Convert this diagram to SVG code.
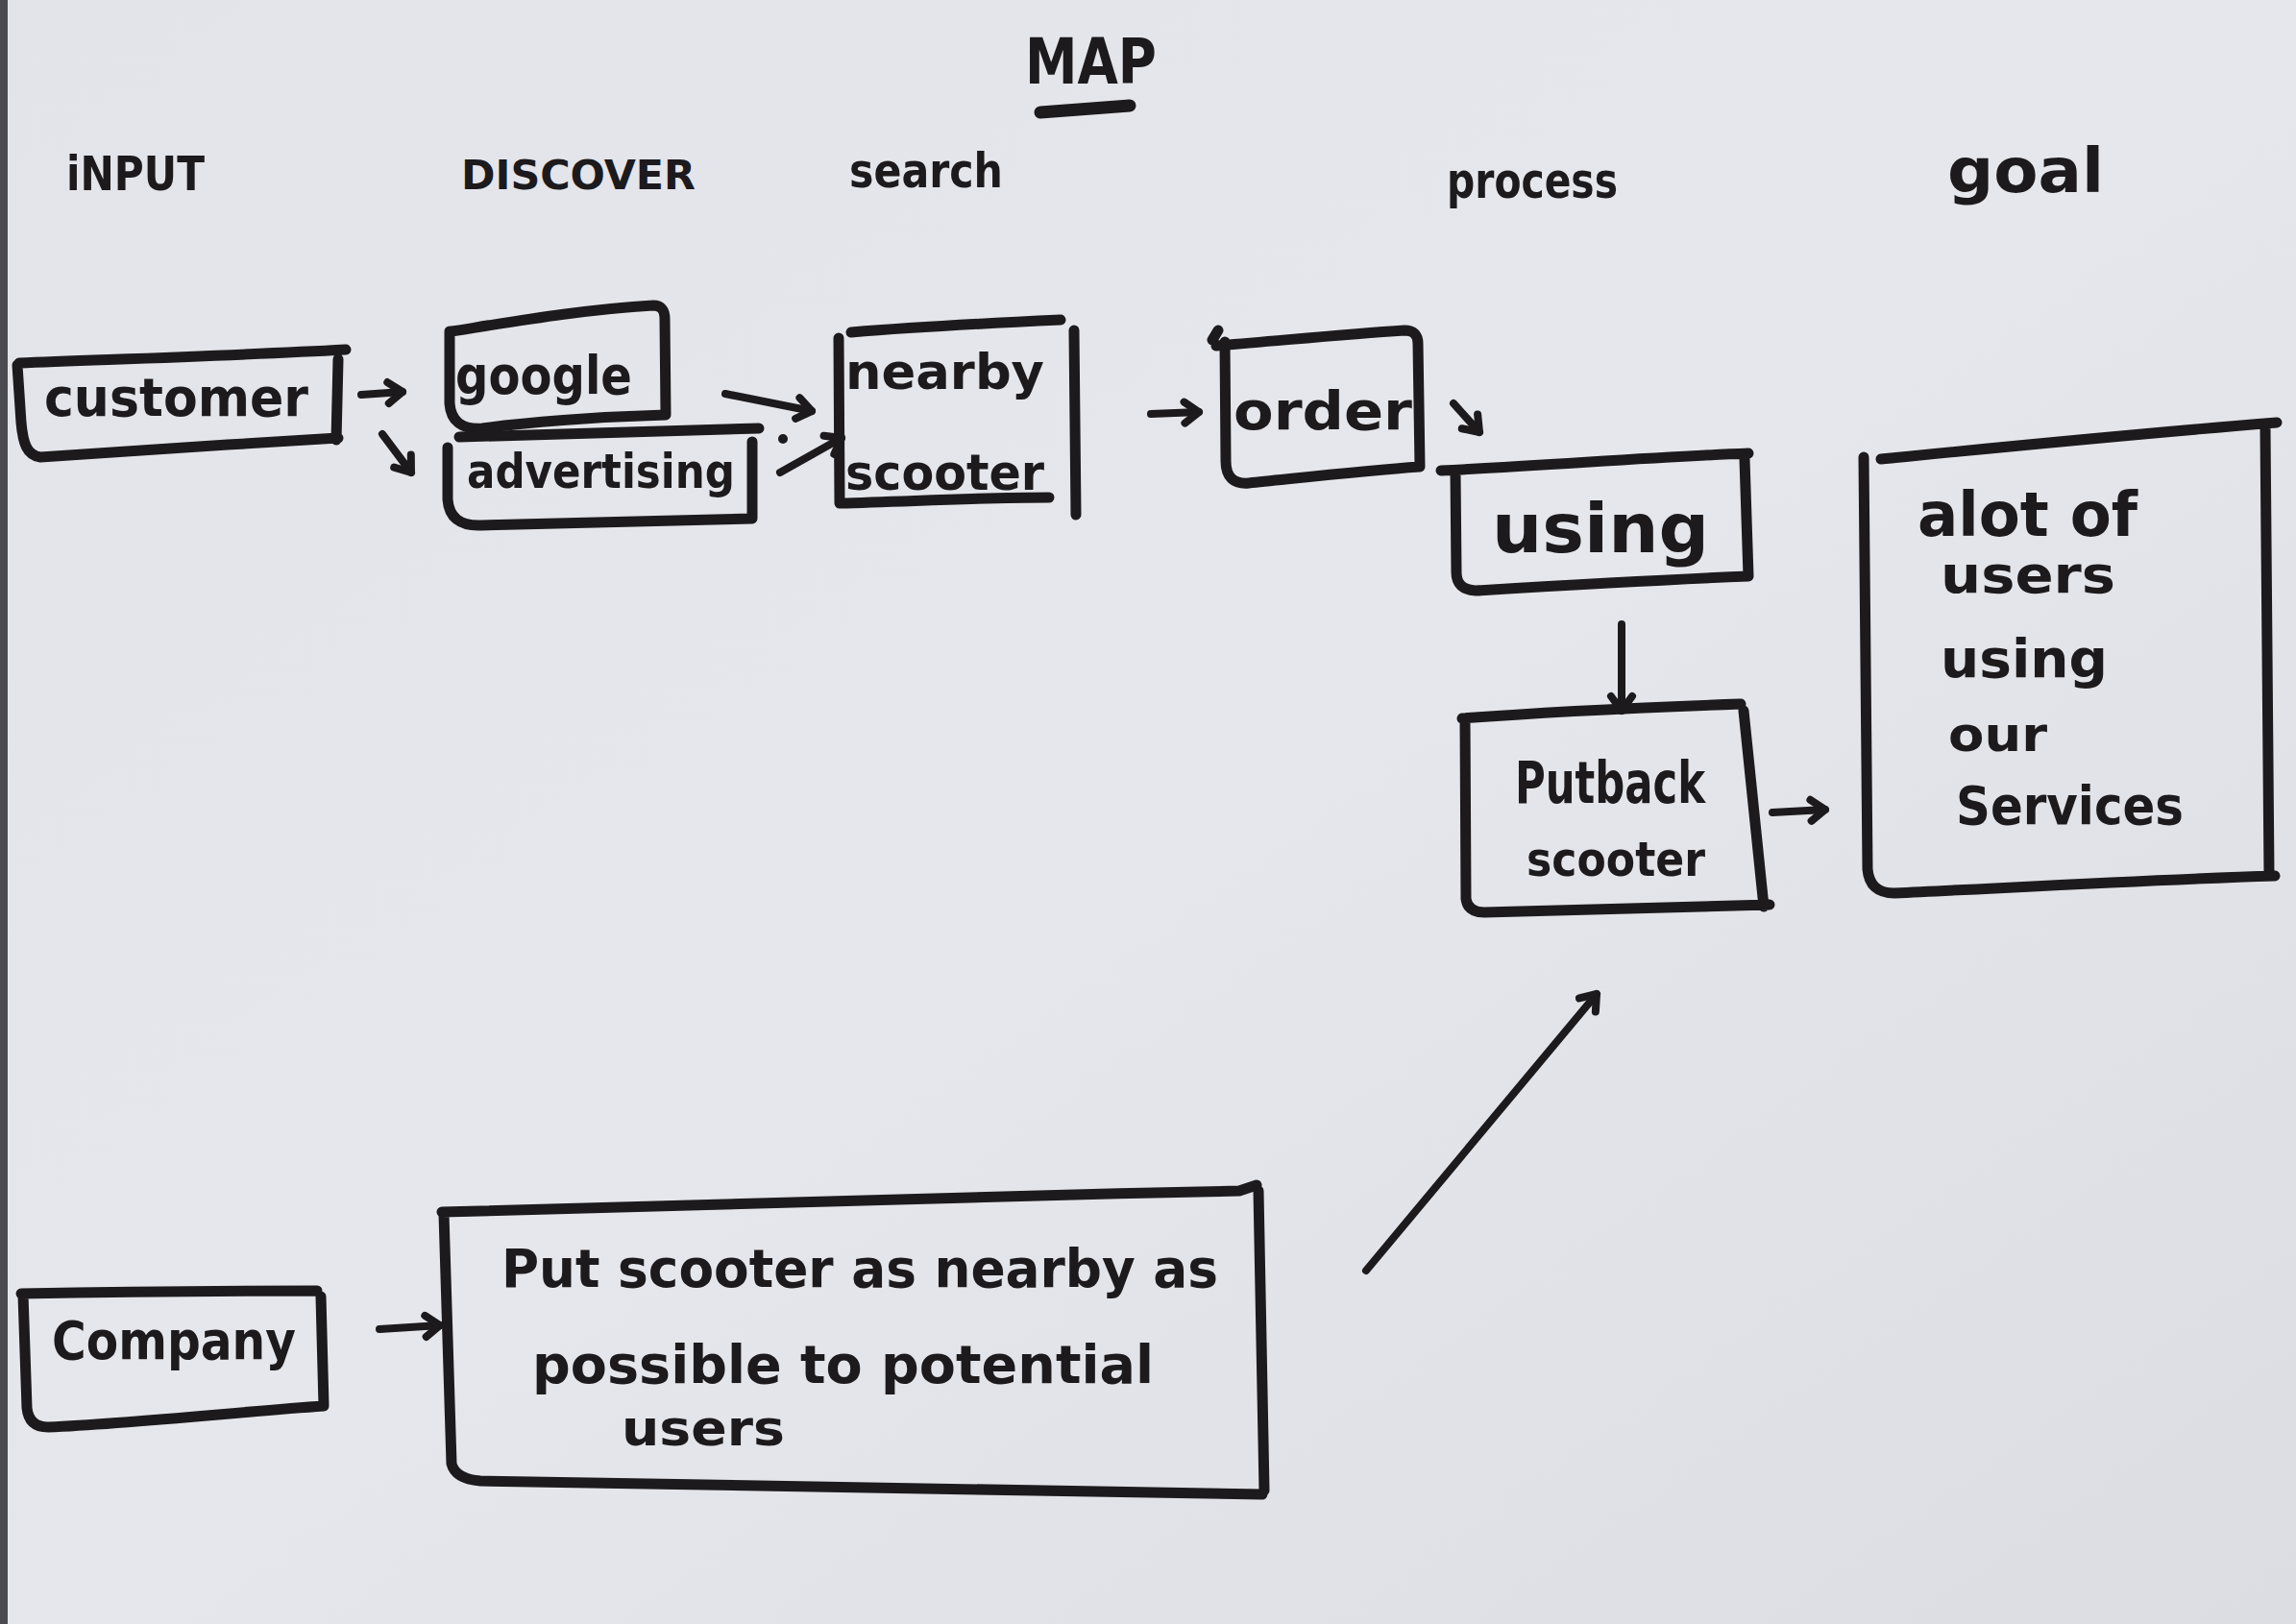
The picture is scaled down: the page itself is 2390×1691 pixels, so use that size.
<svg xmlns="http://www.w3.org/2000/svg" width="2390" height="1691" viewBox="0 0 2390 1691">
<defs>
<linearGradient id="bg" x1="0" y1="0" x2="1" y2="1">
<stop offset="0" stop-color="#e3e4ea"/>
<stop offset="0.5" stop-color="#e6e7ec"/>
<stop offset="1" stop-color="#dcdde3"/>
</linearGradient>
<marker id="head" markerUnits="userSpaceOnUse" markerWidth="40" markerHeight="40" refX="0" refY="0" viewBox="-20 -20 40 40" orient="auto" overflow="visible">
<path d="M-15,-11 L0,0 L-15,11" fill="none" stroke="#1c1a1c" stroke-width="8" stroke-linecap="round" stroke-linejoin="round"/>
</marker>
<style>
.box{fill:none;stroke:#1c1a1c;stroke-width:11;stroke-linecap:round;stroke-linejoin:round}
.con{fill:none;stroke:#1c1a1c;stroke-width:8;stroke-linecap:round;marker-end:url(#head)}
.t{font-family:"Liberation Sans Narrow","DejaVu Sans Condensed","Liberation Sans",sans-serif;font-weight:700;fill:#1c1a1c}
</style>
</defs>
<rect width="2390" height="1691" fill="url(#bg)"/>
<rect x="0" y="0" width="8" height="1691" fill="#4a4a50"/>

<g id="titles">
<text class="t" x="1067" y="87" font-size="66" textLength="137" lengthAdjust="spacingAndGlyphs">MAP</text>
<path d="M1083,117 L1176,110" stroke="#1c1a1c" stroke-width="13" stroke-linecap="round"/>
<text class="t" x="69" y="198" font-size="50" textLength="144" lengthAdjust="spacingAndGlyphs">iNPUT</text>
<text class="t" x="480" y="197" font-size="42" textLength="244" lengthAdjust="spacingAndGlyphs">DISCOVER</text>
<text class="t" x="884" y="195" font-size="50" textLength="160" lengthAdjust="spacingAndGlyphs">search</text>
<text class="t" x="1506" y="206" font-size="52" textLength="178" lengthAdjust="spacingAndGlyphs">process</text>
<text class="t" x="2027" y="200" font-size="64" textLength="163" lengthAdjust="spacingAndGlyphs">goal</text>
</g>

<g id="customer">
<path class="box" d="M20,378 C120,374 250,370 360,364 M352,374 L350,458 M352,456 C250,462 130,470 42,476 C28,474 24,462 22,440 L18,380"/>
<text class="t" x="46" y="433" font-size="56" textLength="275" lengthAdjust="spacingAndGlyphs">customer</text>
</g>

<g id="google">
<path class="box" d="M470,345 C540,334 610,322 680,318 Q692,318 692,332 L693,432 C620,434 545,440 502,446 Q470,448 468,420 L468,345"/>
<text class="t" x="474" y="410" font-size="56" textLength="184" lengthAdjust="spacingAndGlyphs">google</text>
</g>

<g id="advertising">
<path class="box" d="M478,455 C600,452 700,448 790,446 M783,460 L783,540 C700,542 600,545 500,547 Q468,548 466,520 L466,466"/>
<text class="t" x="486" y="508" font-size="50" textLength="279" lengthAdjust="spacingAndGlyphs">advertising</text>
</g>

<g id="nearby-scooter">
<path class="box" d="M886,346 C960,340 1040,336 1104,333 M873,352 L874,524 C950,522 1020,518 1092,518 M1118,344 L1120,536"/>
<text class="t" x="880" y="405" font-size="52" textLength="207" lengthAdjust="spacingAndGlyphs">nearby</text>
<text class="t" x="880" y="510" font-size="52" textLength="207" lengthAdjust="spacingAndGlyphs">scooter</text>
</g>

<g id="order">
<path class="box" d="M1266,360 C1340,354 1400,348 1462,344 Q1476,344 1476,358 L1478,486 C1420,490 1350,498 1300,503 Q1276,505 1276,480 L1275,356 M1262,354 L1268,344"/>
<text class="t" x="1284" y="447" font-size="56" textLength="186" lengthAdjust="spacingAndGlyphs">order</text>
</g>

<g id="using">
<path class="box" d="M1500,490 C1620,484 1720,476 1820,472 M1816,478 L1820,600 C1720,604 1620,610 1536,615 Q1516,614 1516,596 L1515,492"/>
<text class="t" x="1553" y="575" font-size="72" textLength="226" lengthAdjust="spacingAndGlyphs">using</text>
</g>

<g id="putback-scooter">
<path class="box" d="M1522,748 C1600,742 1700,737 1812,733 M1815,740 L1836,944 M1525,748 L1526,936 Q1528,950 1545,950 C1640,948 1740,944 1842,942"/>
<text class="t" x="1577" y="836" font-size="60" textLength="198" lengthAdjust="spacingAndGlyphs">Putback</text>
<text class="t" x="1589" y="912" font-size="50" textLength="186" lengthAdjust="spacingAndGlyphs">scooter</text>
</g>

<g id="goal-box">
<path class="box" d="M1958,478 C2080,466 2220,452 2370,440 M1940,476 L1944,905 Q1946,930 1972,930 C2100,924 2240,916 2368,912 M2358,446 L2362,912"/>
<text class="t" x="1996" y="558" font-size="64" textLength="229" lengthAdjust="spacingAndGlyphs">alot of</text>
<text class="t" x="2020" y="617" font-size="54" textLength="182" lengthAdjust="spacingAndGlyphs">users</text>
<text class="t" x="2020" y="705" font-size="56" textLength="174" lengthAdjust="spacingAndGlyphs">using</text>
<text class="t" x="2028" y="782" font-size="50" textLength="103" lengthAdjust="spacingAndGlyphs">our</text>
<text class="t" x="2036" y="858" font-size="56" textLength="237" lengthAdjust="spacingAndGlyphs">Services</text>
</g>

<g id="company">
<path class="box" d="M22,1347 C120,1345 230,1344 330,1344 M334,1350 L337,1464 C250,1470 140,1482 50,1486 Q30,1486 28,1466 L24,1348"/>
<text class="t" x="54" y="1415" font-size="56" textLength="254" lengthAdjust="spacingAndGlyphs">Company</text>
</g>

<g id="put-scooter">
<path class="box" d="M460,1262 C700,1255 1000,1246 1290,1240 L1308,1234 M1310,1240 L1316,1552 M462,1264 L470,1524 Q474,1540 500,1542 C700,1546 1000,1552 1314,1556"/>
<text class="t" x="522" y="1340" font-size="56" textLength="746" lengthAdjust="spacingAndGlyphs">Put scooter as nearby as</text>
<text class="t" x="554" y="1440" font-size="56" textLength="647" lengthAdjust="spacingAndGlyphs">possible to potential</text>
<text class="t" x="647" y="1505" font-size="52" textLength="170" lengthAdjust="spacingAndGlyphs">users</text>
</g>

<g id="connectors">
<path class="con" d="M376,411 L419,408"/>
<path class="con" d="M398,452 L428,492"/>
<path class="con" d="M755,410 L845,428"/>
<path class="con" d="M812,492 L876,456"/>
<circle cx="815" cy="457" r="5" fill="#1c1a1c"/>
<path class="con" d="M1198,431 L1248,429"/>
<path class="con" d="M1513,420 L1540,450"/>
<path class="con" d="M1688,650 L1688,740"/>
<path class="con" d="M1845,846 L1900,843"/>
<path class="con" d="M395,1384 L458,1380"/>
<path class="con" d="M1422,1323 L1662,1035"/>
</g>
</svg>
